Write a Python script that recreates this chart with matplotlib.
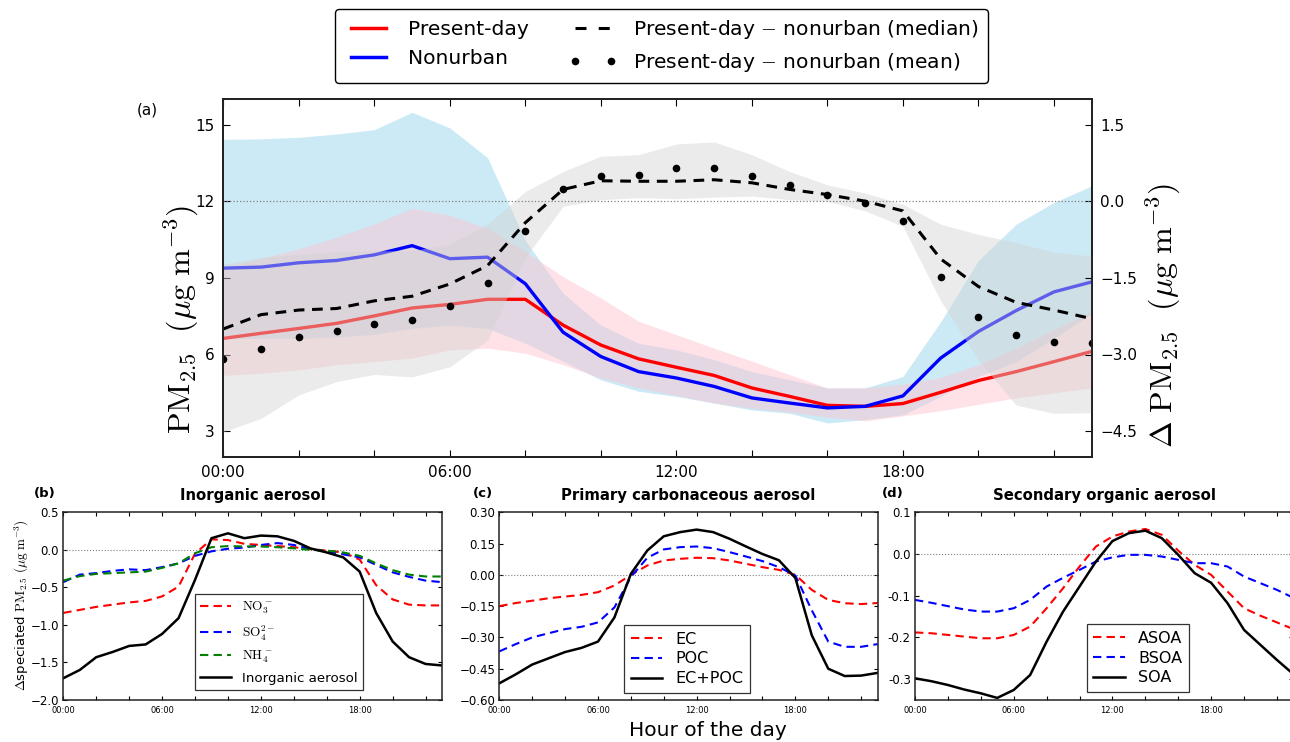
import matplotlib
matplotlib.use("Agg")
import matplotlib.pyplot as plt
from matplotlib.lines import Line2D

plt.rcParams['font.family'] = ['DejaVu Sans']
plt.rcParams['mathtext.fontset'] = 'cm'

hours = list(range(24))
hour_ticks = [0, 2, 4, 6, 8, 10, 12, 14, 16, 18, 20, 22]
hour_labels = ['00:00', '', '', '06:00', '', '', '12:00', '', '', '18:00', '', '']

# ---- panel (a) ----
present = [6.63, 6.83, 7.02, 7.22, 7.51, 7.82, 7.96, 8.16, 8.16, 7.15, 6.37, 5.83,
           5.50, 5.18, 4.69, 4.36, 4.01, 3.97, 4.08, 4.52, 4.98, 5.33, 5.72, 6.12]
present_lo = [5.18, 5.27, 5.40, 5.60, 5.72, 5.86, 6.18, 6.25, 6.05, 5.60, 5.08, 4.69,
              4.40, 4.10, 3.90, 3.75, 3.55, 3.40, 3.60, 3.80, 4.05, 4.30, 4.50, 4.69]
present_hi = [9.42, 9.75, 10.14, 10.59, 11.11, 11.72, 11.45, 10.94, 10.03, 9.05, 8.21, 7.30,
              6.78, 6.25, 5.74, 5.21, 4.69, 4.69, 4.84, 5.10, 5.60, 6.25, 6.97, 7.68]
nonurban = [9.38, 9.42, 9.59, 9.68, 9.90, 10.26, 9.75, 9.81, 8.77, 6.87, 5.92, 5.33,
            5.08, 4.75, 4.30, 4.10, 3.91, 3.97, 4.38, 5.86, 6.90, 7.72, 8.45, 8.84]
nonurban_lo = [6.63, 6.63, 6.63, 6.68, 6.79, 7.02, 7.15, 7.02, 6.44, 5.74, 5.01, 4.56,
               4.36, 4.10, 3.83, 3.70, 3.32, 3.45, 3.64, 4.36, 5.14, 5.72, 6.63, 7.60]
nonurban_hi = [14.42, 14.44, 14.50, 14.63, 14.80, 15.48, 14.87, 13.70, 10.46, 8.40, 7.15, 6.44,
               6.18, 5.80, 5.33, 5.01, 4.69, 4.69, 5.14, 7.28, 9.68, 11.10, 11.95, 12.60]
diff_median = [-2.50, -2.22, -2.13, -2.10, -1.95, -1.86, -1.62, -1.26, -0.42, 0.23, 0.40, 0.39,
               0.39, 0.42, 0.36, 0.23, 0.13, 0.00, -0.19, -1.13, -1.67, -1.98, -2.13, -2.30]
diff_mean = [-3.08, -2.90, -2.66, -2.54, -2.41, -2.33, -2.05, -1.60, -0.58, 0.23, 0.49, 0.52,
             0.64, 0.64, 0.50, 0.32, 0.13, -0.04, -0.38, -1.49, -2.27, -2.61, -2.76, -2.77]
diff_lo = [-4.51, -4.25, -3.79, -3.53, -3.39, -3.44, -3.24, -2.72, -1.10, -0.10, 0.03, 0.07,
           0.05, 0.08, 0.10, 0.03, 0.00, -0.19, -0.49, -1.95, -3.11, -3.99, -4.15, -4.14]
diff_hi = [-1.23, -1.10, -1.04, -0.98, -0.97, -0.97, -0.84, -0.45, 0.19, 0.58, 0.88, 0.91,
           1.12, 1.16, 0.91, 0.58, 0.32, 0.16, -0.06, -0.45, -0.65, -0.81, -1.00, -1.07]
left_ticks = [3, 6, 9, 12, 15]
right_ticks = [-4.5, -3.0, -1.5, 0.0, 1.5]

# ---- panel (b) ----
no3 = [-0.84, -0.80, -0.76, -0.73, -0.70, -0.68, -0.62, -0.49, -0.05, 0.14, 0.13, 0.08,
       0.065, 0.05, 0.035, 0.01, -0.01, -0.035, -0.13, -0.47, -0.66, -0.73, -0.74, -0.74]
so4 = [-0.43, -0.33, -0.31, -0.28, -0.26, -0.27, -0.23, -0.18, -0.08, -0.02, 0.015, 0.03,
       0.065, 0.09, 0.065, 0.01, -0.02, -0.06, -0.10, -0.20, -0.30, -0.36, -0.41, -0.43]
nh4 = [-0.41, -0.35, -0.32, -0.31, -0.30, -0.29, -0.24, -0.18, -0.045, 0.035, 0.05, 0.045,
       0.045, 0.035, 0.02, 0.0, -0.01, -0.035, -0.08, -0.18, -0.27, -0.33, -0.355, -0.355]
inorg = [-1.71, -1.60, -1.43, -1.36, -1.28, -1.26, -1.12, -0.91, -0.40, 0.155, 0.22, 0.155,
         0.19, 0.18, 0.12, 0.02, -0.035, -0.10, -0.29, -0.84, -1.22, -1.43, -1.52, -1.54]
b_ticks = [-2.0, -1.5, -1.0, -0.5, 0.0, 0.5]

# ---- panel (c) ----
ec = [-0.150, -0.135, -0.124, -0.112, -0.104, -0.096, -0.083, -0.051, 0.0, 0.045, 0.069, 0.077,
      0.082, 0.080, 0.069, 0.053, 0.037, 0.024, 0.0, -0.072, -0.120, -0.136, -0.140, -0.135]
poc = [-0.367, -0.332, -0.300, -0.280, -0.260, -0.249, -0.228, -0.156, -0.010, 0.082, 0.122, 0.133,
       0.136, 0.128, 0.109, 0.088, 0.066, 0.037, -0.003, -0.170, -0.320, -0.345, -0.345, -0.332]
ecpoc = [-0.520, -0.477, -0.430, -0.400, -0.370, -0.350, -0.320, -0.204, 0.005, 0.117, 0.185, 0.205,
         0.217, 0.205, 0.173, 0.136, 0.100, 0.070, -0.015, -0.290, -0.450, -0.485, -0.483, -0.470]
c_ticks = [-0.60, -0.45, -0.30, -0.15, 0.00, 0.15, 0.30]

# ---- panel (d) ----
asoa = [-0.188, -0.190, -0.194, -0.198, -0.202, -0.202, -0.194, -0.174, -0.130, -0.082, -0.030, 0.018,
        0.042, 0.054, 0.060, 0.046, 0.008, -0.026, -0.050, -0.090, -0.130, -0.148, -0.164, -0.180]
bsoa = [-0.110, -0.117, -0.125, -0.133, -0.138, -0.138, -0.130, -0.110, -0.078, -0.057, -0.038, -0.018,
        -0.008, -0.002, -0.002, -0.006, -0.014, -0.022, -0.022, -0.030, -0.054, -0.070, -0.086, -0.105]
soa = [-0.298, -0.305, -0.314, -0.325, -0.334, -0.345, -0.326, -0.290, -0.210, -0.138, -0.078, -0.018,
       0.031, 0.050, 0.056, 0.038, -0.002, -0.046, -0.069, -0.118, -0.182, -0.218, -0.254, -0.288]
d_ticks = [-0.3, -0.2, -0.1, 0.0, 0.1]
d_ticklabels = ['-0.3', '-0.2', '-0.1', '0.0', '0.1']

W, H = 1290, 742
fig = plt.figure(figsize=(12.9, 7.42), dpi=100)


def fx(px):
    return px / W


def fy(py):
    return 1 - py / H


spine_col = '#222222'

# ================= main panel =================
ax = fig.add_axes([fx(223.3), fy(456.7), fx(1091.7 - 223.3), (456.7 - 99) / H])
ax.fill_between(hours, nonurban_lo, nonurban_hi, color='skyblue', alpha=0.42, lw=0)
ax.fill_between(hours, present_lo, present_hi, color='pink', alpha=0.45, lw=0)
ax.plot(hours, present, color='red', lw=2.4)
ax.plot(hours, nonurban, color='blue', lw=2.4)
ax.set_xlim(0, 23)
ax.set_ylim(2, 16)
ax.set_yticks(left_ticks)
ax.set_xticks(hour_ticks)
ax.set_xticklabels(hour_labels)
ax.tick_params(direction='in', top=True, right=False, labelsize=11, length=5, pad=6)

ax2 = ax.twinx()
ax2.fill_between(hours, diff_lo, diff_hi, color='lightgrey', alpha=0.45, lw=0)
ax2.axhline(0, color='grey', ls=':', lw=0.9)
ax2.plot(hours, diff_median, color='black', ls='--', dashes=(3.5, 2.5), lw=2.2)
ax2.plot(hours, diff_mean, 'o', color='black', ms=5.5, mew=0)
ax2.set_ylim(-5, 2)
ax2.set_yticks(right_ticks)
ax2.tick_params(direction='in', labelsize=11, length=5, pad=6)
for a in (ax, ax2):
    for s in a.spines.values():
        s.set_linewidth(1.3)
        s.set_color(spine_col)

fig.text(fx(181), fy(320), r'$\mathrm{PM_{2.5}}\ \ (\mathrm{\mu g\ m^{-3}})$',
         rotation=90, ha='center', va='center', fontsize=23)
fig.text(fx(1163), fy(316), r'$\Delta\ \mathrm{PM_{2.5}}\ \ (\mathrm{\mu g\ m^{-3}})$',
         rotation=90, ha='center', va='center', fontsize=23)
fig.text(fx(147), fy(110), '(a)', ha='center', va='center', fontsize=11)

handles = [Line2D([], [], color='red', lw=2.5),
           Line2D([], [], color='blue', lw=2.5),
           Line2D([], [], color='black', ls='--', dashes=(3.6, 4.0), lw=2.2),
           Line2D([], [], color='black', ls='none', marker='o', ms=5.5, mew=0)]
labels = ['Present-day', 'Nonurban',
          r'Present-day $-$ nonurban (median)', r'Present-day $-$ nonurban (mean)']
leg = fig.legend(handles, labels, loc='center', bbox_to_anchor=(fx(661.5), fy(46)),
                 ncol=2, fontsize=14.6, numpoints=2, handlelength=2.33, handletextpad=0.8,
                 columnspacing=2.0, labelspacing=0.5, frameon=True,
                 fancybox=True, edgecolor='black', framealpha=1, borderpad=0.45)
leg.get_frame().set_linewidth(1.0)


# ================= sub panels =================
def sub_axes(left_px, right_px):
    a = fig.add_axes([fx(left_px), fy(700), fx(right_px - left_px), (700 - 512.3) / H])
    a.set_xlim(0, 23)
    a.set_xticks(hour_ticks)
    a.set_xticklabels(hour_labels)
    a.tick_params(axis='x', labelsize=6, direction='in', top=True, length=3, pad=4)
    a.tick_params(axis='y', labelsize=8.5, direction='in', right=True, length=3, pad=3)
    a.axhline(0, color='grey', ls=':', lw=0.8)
    for s in a.spines.values():
        s.set_linewidth(1.1)
        s.set_color(spine_col)
    return a


dash = (4, 2.5)

# (b)
axb = sub_axes(63.3, 442)
axb.plot(hours, no3, color='red', ls='--', dashes=dash, lw=1.5, label=r'$\mathrm{NO_3^-}$')
axb.plot(hours, so4, color='blue', ls='--', dashes=dash, lw=1.5, label=r'$\mathrm{SO_4^{2-}}$')
axb.plot(hours, nh4, color='green', ls='--', dashes=dash, lw=1.5, label=r'$\mathrm{NH_4^-}$')
axb.plot(hours, inorg, color='black', lw=1.8, label='Inorganic aerosol')
axb.set_ylim(-2.0, 0.5)
axb.set_yticks(b_ticks)
lb = axb.legend(loc='lower left', bbox_to_anchor=(0.348, 0.053), borderaxespad=0,
                fontsize=9.6, fancybox=False, edgecolor='#333333', framealpha=1,
                handlelength=2.3, labelspacing=0.5)
lb.get_frame().set_linewidth(0.9)
axb.set_title('Inorganic aerosol', fontsize=10.7, fontweight='bold', pad=9)
fig.text(fx(45), fy(493), '(b)', ha='center', va='center', fontsize=9.5, fontweight='bold')
fig.text(fx(22), fy(605), r'$\Delta$speciated $\mathrm{PM_{2.5}}$ $(\mathrm{\mu g\ m^{-3}})$',
         rotation=90, ha='center', va='center', fontsize=9.5)

# (c)
axc = sub_axes(499.3, 877.6)
axc.plot(hours, ec, color='red', ls='--', dashes=dash, lw=1.5, label='EC')
axc.plot(hours, poc, color='blue', ls='--', dashes=dash, lw=1.5, label='POC')
axc.plot(hours, ecpoc, color='black', lw=1.8, label='EC+POC')
axc.set_ylim(-0.60, 0.30)
axc.set_yticks(c_ticks)
lc = axc.legend(loc='lower left', bbox_to_anchor=(0.33, 0.039), borderaxespad=0,
                fontsize=11.5, fancybox=False, edgecolor='#333333', framealpha=1,
                handlelength=2.0, labelspacing=0.3)
lc.get_frame().set_linewidth(0.9)
axc.set_title('Primary carbonaceous aerosol', fontsize=10.7, fontweight='bold', pad=9)
fig.text(fx(483), fy(493), '(c)', ha='center', va='center', fontsize=9.5, fontweight='bold')

# (d)
axd = sub_axes(915, 1293.4)
axd.plot(hours, asoa, color='red', ls='--', dashes=dash, lw=1.5, label='ASOA')
axd.plot(hours, bsoa, color='blue', ls='--', dashes=dash, lw=1.5, label='BSOA')
axd.plot(hours, soa, color='black', lw=1.8, label='SOA')
axd.set_ylim(-0.35, 0.1)
axd.set_yticks(d_ticks)
axd.set_yticklabels(d_ticklabels)
ld = axd.legend(loc='lower left', bbox_to_anchor=(0.4545, 0.044), borderaxespad=0,
                fontsize=11.5, fancybox=False, edgecolor='#333333', framealpha=1,
                handlelength=2.0, labelspacing=0.3)
ld.get_frame().set_linewidth(0.9)
axd.set_title('Secondary organic aerosol', fontsize=10.7, fontweight='bold', pad=9)
fig.text(fx(893), fy(493), '(d)', ha='center', va='center', fontsize=9.5, fontweight='bold')

fig.text(fx(708), fy(730), 'Hour of the day', ha='center', va='center', fontsize=14.5)

fig.savefig('out.png', dpi=100)
